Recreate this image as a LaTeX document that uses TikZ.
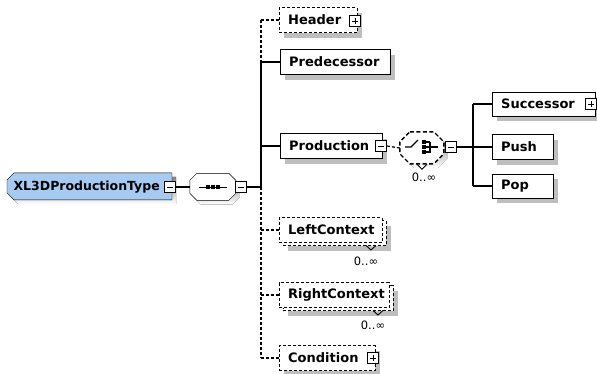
\documentclass[tikz,border=0pt]{standalone}
\usepackage{fontspec}
\setmainfont{DejaVu Sans}
\usetikzlibrary{shadows,backgrounds}
\definecolor{rootblue}{RGB}{166,202,240}
\definecolor{shade}{RGB}{190,190,190}
\begin{document}
\begin{tikzpicture}[x=1pt,y=-1pt,line width=1.2pt,
  txt/.style={font=\fontsize{13}{15}\selectfont\bfseries},
  shd/.style={drop shadow={shadow xshift=5pt,shadow yshift=-5pt,fill=shade,opacity=1,draw=none}},
  box/.style={txt,draw,fill=white,anchor=west,minimum height=25pt,inner xsep=9pt,inner ysep=0pt,align=left},
  elem/.style={box,shd},
  optelem/.style={elem,dash pattern=on 3pt off 2pt},
  optback/.style={box,dash pattern=on 3pt off 2pt},
  pm/.style={draw,solid,fill=white,minimum size=11pt,inner sep=0pt,line width=1pt},
  minus/.style={pm,path picture={\draw[line width=1pt] ([xshift=2.5pt]path picture bounding box.west) -- ([xshift=-2.5pt]path picture bounding box.east);}},
  plus/.style={pm,path picture={\draw[line width=1pt] ([xshift=2.5pt]path picture bounding box.west) -- ([xshift=-2.5pt]path picture bounding box.east) ([yshift=-2.5pt]path picture bounding box.north) -- ([yshift=2.5pt]path picture bounding box.south);}},
  occ/.style={font=\fontsize{11.5}{13}\selectfont},
  link/.style={line width=1.2pt},
  optlink/.style={link,dash pattern=on 3pt off 2pt}]
\useasboundingbox (0,0) rectangle (597,373);

% root complex type
\node[txt,font=\fontsize{12.5}{15}\selectfont\bfseries,anchor=west,minimum width=165pt,minimum height=27pt,inner xsep=6pt,text width=153pt,align=left] (root) at (7,187) {XL3DProductionType};
\begin{pgfonlayer}{background}
  \fill[shade] ([shift={(4pt,-4pt)}]root.north west) ++(7,0) -- ++(158,0) -- ++(0,27) -- ++(-158,0) -- ++(-7,-7) -- ++(0,-13) -- cycle;
  \draw[fill=rootblue] (root.north west) ++(7,0) -- ++(158,0) -- ++(0,27) -- ++(-158,0) -- ++(-7,-7) -- ++(0,-13) -- cycle;
\end{pgfonlayer}
\node[minus] (rootx) at (169.5,187) {};

% sequence compositor
\node[minimum width=46pt,minimum height=27pt,inner sep=0pt] (seq) at (213,187) {};
\fill[shade] ([shift={(4pt,-4pt)}]seq.north west) ++(7,0) -- ++(32,0) -- ++(7,7) -- ++(0,13) -- ++(-7,7) -- ++(-32,0) -- ++(-7,-7) -- ++(0,-13) -- cycle;
\draw[fill=white] (seq.north west) ++(7,0) -- ++(32,0) -- ++(7,7) -- ++(0,13) -- ++(-7,7) -- ++(-32,0) -- ++(-7,-7) -- ++(0,-13) -- cycle;
\draw (seq.center) ++(-14,0) -- ++(28,0);
\foreach \d in {-5,0,5} \fill ([xshift=\d pt]seq.center) +(-1.7,-1.7) rectangle +(1.7,1.7);
\node[minus] (seqx) at (240.5,187) {};
\coordinate (tr) at (261,187);

% children of the sequence
\node[optelem,text width=60pt] (header) at (279,20) {Header};
\node[plus] (headerx) at (355,21) {};
\node[elem,text width=92pt] (pred) at (280,62) {Predecessor};
\node[elem,text width=84pt] (prod) at (280,146) {Production};
\node[minus] (prodx) at (381,146) {};

\node[optback,shd,text width=85pt,minimum height=25pt] (leftback) at (283,233) {};
\node[optback,text width=85pt,minimum height=25pt] (left) at (279,230) {LeftContext};
\draw[line width=0.9pt] (366,245.5) -- (371,250) -- (376,245.5);
\node[occ] (leftocc) at (366,261) {0..∞};

\node[optback,shd,text width=92pt,minimum height=25pt] (rightback) at (283,298) {};
\node[optback,text width=92pt,minimum height=25pt] (right) at (279,295) {RightContext};
\draw[line width=0.9pt] (373,310.5) -- (378,315) -- (383,310.5);
\node[occ] (rightocc) at (373,325) {0..∞};

\node[optelem,text width=78pt] (cond) at (279,358) {Condition};
\node[plus] (condx) at (373,358) {};

% choice compositor
\node[minimum width=44pt,minimum height=32pt,inner sep=0pt] (choice) at (422,148) {};
\fill[shade] ([shift={(4pt,-4pt)}]choice.north west) ++(10,0) -- ++(24,0) -- ++(10,10) -- ++(0,12) -- ++(-10,10) -- ++(-24,0) -- ++(-10,-10) -- ++(0,-12) -- cycle;
\fill[white] (choice.north west) ++(10,0) -- ++(24,0) -- ++(10,10) -- ++(0,12) -- ++(-10,10) -- ++(-24,0) -- ++(-10,-10) -- ++(0,-12) -- cycle;
\draw[black,line width=1.4pt,dash pattern=on 4pt off 2.5pt] (choice.north west) ++(10,0) -- ++(24,0) -- ++(10,10) -- ++(0,12) -- ++(-10,10) -- ++(-24,0) -- ++(-10,-10) -- ++(0,-12) -- cycle;
\draw[line width=0.9pt] ([xshift=-5pt]choice.south) -- ++(5,5) -- ++(5,-5);
\draw[line width=1.3pt] (405,147) -- (411,147) -- (418,140);
\foreach \yy in {142,147,152} \fill (424,\yy) +(-1.7,-1.7) rectangle +(1.7,1.7);
\draw[line width=1.3pt] (426,142) -- (430,142) (426,152) -- (430,152) (430,141.5) -- (430,152.5) (426,147) -- (438,147);
\node[minus] (choicex) at (451,147) {};
\node[occ] (choiceocc) at (424,177) {0..∞};
\coordinate (rt) at (473,147);

% children of the choice
\node[elem,text width=85pt,minimum height=24pt] (succ) at (492,104) {Successor};
\node[plus] (succx) at (591,104) {};
\node[elem,text width=43pt] (push) at (492,147) {Push};
\node[elem,text width=43pt,minimum height=24pt] (pop) at (492,186) {Pop};

% connectors
\draw[link] (rootx.east) -- (seq.west);
\draw[link] (seqx.east) -- (tr);
\draw[link] (tr |- pred.west) -- (tr);
\draw[optlink] (tr |- header.west) -- (tr |- pred.west);
\draw[optlink] (tr) -- (tr |- cond.west);
\draw[optlink] (tr |- header.west) -- (header.west);
\draw[link] (tr |- pred.west) -- (pred.west);
\draw[link] (tr |- prod.west) -- (prod.west);
\draw[optlink] (tr |- left.west) -- (left.west);
\draw[optlink] (tr |- right.west) -- (right.west);
\draw[optlink] (tr |- cond.west) -- (cond.west);
\draw[optlink] (prodx.east) -- (choice.west);
\draw[link] (choicex.east) -- (rt);
\draw[link] (rt |- succ.west) -- (rt |- pop.west);
\draw[link] (rt |- succ.west) -- (succ.west);
\draw[link] (rt |- push.west) -- (push.west);
\draw[link] (rt |- pop.west) -- (pop.west);
\end{tikzpicture}
\end{document}
